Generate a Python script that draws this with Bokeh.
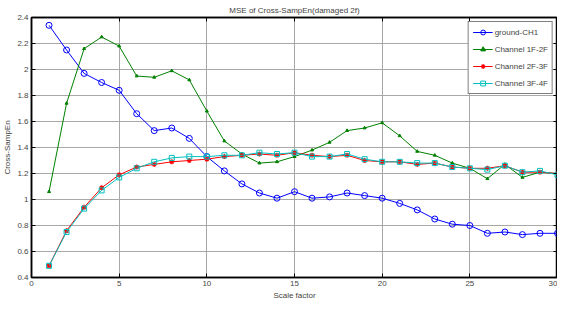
from bokeh.plotting import figure
from bokeh.models import Range1d, LinearAxis, FixedTicker, Legend, LegendItem
from bokeh.embed import file_html
from bokeh.resources import INLINE

scale = list(range(1, 31))
ground_ch1 = [2.34, 2.15, 1.97, 1.90, 1.84, 1.66, 1.53, 1.55, 1.47, 1.33,
              1.22, 1.12, 1.05, 1.01, 1.06, 1.01, 1.02, 1.05, 1.03, 1.01,
              0.97, 0.92, 0.85, 0.81, 0.80, 0.74, 0.75, 0.73, 0.74, 0.74]
ch_1f_2f = [1.06, 1.74, 2.16, 2.25, 2.18, 1.95, 1.94, 1.99, 1.92, 1.68,
            1.45, 1.35, 1.28, 1.29, 1.33, 1.38, 1.44, 1.53, 1.55, 1.59,
            1.49, 1.37, 1.34, 1.28, 1.24, 1.16, 1.27, 1.17, 1.21, 1.20]
ch_2f_3f = [0.49, 0.76, 0.94, 1.09, 1.19, 1.25, 1.27, 1.29, 1.30, 1.31,
            1.33, 1.34, 1.35, 1.34, 1.36, 1.34, 1.33, 1.34, 1.30, 1.29,
            1.29, 1.27, 1.28, 1.25, 1.24, 1.24, 1.26, 1.21, 1.21, 1.20]
ch_3f_4f = [0.49, 0.75, 0.93, 1.07, 1.17, 1.24, 1.29, 1.32, 1.33, 1.33,
            1.34, 1.34, 1.36, 1.35, 1.36, 1.33, 1.33, 1.35, 1.31, 1.29,
            1.29, 1.28, 1.28, 1.25, 1.24, 1.23, 1.26, 1.21, 1.22, 1.19]

x_ticks = [0, 5, 10, 15, 20, 25, 30]
y_ticks = [0.4, 0.6, 0.8, 1.0, 1.2, 1.4, 1.6, 1.8, 2.0, 2.2, 2.4]
y_tick_labels = ["0.4", "0.6", "0.8", "1", "1.2", "1.4", "1.6", "1.8", "2", "2.2", "2.4"]

FONT = "Liberation Sans"

p = figure(frame_width=526, frame_height=260, output_backend="svg", toolbar_location=None,
           x_range=Range1d(0, 30), y_range=Range1d(0.4, 2.4),
           title="MSE of Cross-SampEn(damaged 2f)",
           min_border_left=27, min_border_right=0, min_border_top=0, min_border_bottom=0)
p.background_fill_color = "white"
p.border_fill_color = "white"
p.outline_line_color = "black"
p.outline_line_width = 1.5

p.title.align = "center"
p.title.text_font = FONT
p.title.text_font_size = "8px"
p.title.text_font_style = "normal"
p.title.standoff = 6
p.title.offset = 0

p.xaxis.axis_label = "Scale factor"
p.yaxis.axis_label = "Cross-SampEn"
for ax in [p.xaxis[0], p.yaxis[0]]:
    ax.axis_label_text_font = FONT
    ax.axis_label_text_font_size = "8px"
    ax.axis_label_text_font_style = "normal"
    ax.major_label_text_font = FONT
    ax.major_label_text_font_size = "8px"
    ax.major_tick_in = 4
    ax.major_tick_out = 0
    ax.minor_tick_in = 0
    ax.minor_tick_out = 0
    ax.axis_line_color = "black"
    ax.axis_line_width = 1.5
    ax.major_tick_line_color = "black"
    ax.axis_label_standoff = 2
    ax.major_label_standoff = 3

p.xaxis.ticker = FixedTicker(ticks=x_ticks)
p.yaxis.ticker = FixedTicker(ticks=y_ticks)
p.yaxis.major_label_overrides = {t: l for t, l in zip(y_ticks, y_tick_labels)}

for loc, tick_vals in [("right", y_ticks), ("above", x_ticks)]:
    ax = LinearAxis(ticker=FixedTicker(ticks=tick_vals),
                    major_label_overrides={t: "" for t in tick_vals},
                    major_label_text_font_size="8px",
                    major_tick_in=4, major_tick_out=0, minor_tick_in=0, minor_tick_out=0,
                    axis_line_color="black", axis_line_width=1.5,
                    major_label_standoff=0)
    p.add_layout(ax, loc)

p.xgrid.ticker = FixedTicker(ticks=x_ticks)
p.ygrid.ticker = FixedTicker(ticks=y_ticks)
p.grid.grid_line_color = "#a8a8a8"
p.grid.grid_line_width = 1

items = []
l1 = p.line(scale, ground_ch1, line_color="blue", line_width=1)
m1 = p.scatter(scale, ground_ch1, marker="circle", size=6, line_color="blue", fill_color=None, line_width=1)
items.append(LegendItem(label="ground-CH1", renderers=[l1, m1]))

l2 = p.line(scale, ch_1f_2f, line_color="#008000", line_width=1)
m2 = p.scatter(scale, ch_1f_2f, marker="triangle", size=3, line_color="#008000", fill_color="#008000")
items.append(LegendItem(label="Channel 1F-2F", renderers=[l2, m2]))

l3 = p.line(scale, ch_2f_3f, line_color="red", line_width=1)
m3 = p.scatter(scale, ch_2f_3f, marker="asterisk", size=5, line_color="red", line_width=1.2)
items.append(LegendItem(label="Channel 2F-3F", renderers=[l3, m3]))

l4 = p.line(scale, ch_3f_4f, line_color="#00bfbf", line_width=1)
m4 = p.scatter(scale, ch_3f_4f, marker="square", size=5, line_color="#00bfbf", fill_color=None, line_width=1)
items.append(LegendItem(label="Channel 3F-4F", renderers=[l4, m4]))

legend = Legend(items=items, location="top_right")
legend.label_text_font = FONT
legend.label_text_font_size = "8px"
legend.border_line_color = "black"
legend.border_line_width = 1.5
legend.background_fill_alpha = 1
legend.glyph_width = 20
legend.glyph_height = 12
legend.label_height = 12
legend.spacing = 5
legend.padding = 4
legend.margin = 4
legend.label_standoff = 2
p.add_layout(legend, "center")

open("out.html", "w").write(file_html(p, INLINE))
